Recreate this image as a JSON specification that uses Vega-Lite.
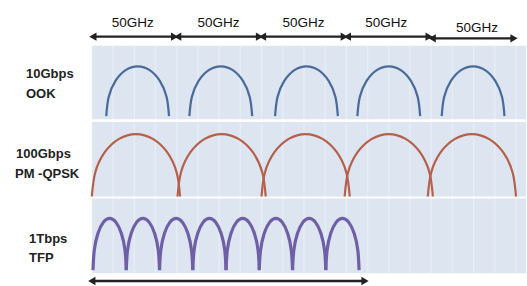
{
  "$schema": "https://vega.github.io/schema/vega-lite/v6.json",
  "width": 527,
  "height": 286,
  "autosize": {"type": "fit", "contains": "padding"},
  "padding": 0,
  "background": "white",
  "config": {"view": {"stroke": null}},
  "datasets": {
    "bands": [
      {"x": 0, "x2": 256, "y": 58.0, "y2": 83.9},
      {"x": 0, "x2": 256, "y": 30.8, "y2": 57.0},
      {"x": 0, "x2": 256, "y": 3.8, "y2": 30.1}
    ],
    "grid": [
      {"x": 0}, {"x": 12.5}, {"x": 25}, {"x": 37.5}, {"x": 50}, {"x": 62.5}, {"x": 75},
      {"x": 87.5}, {"x": 100}, {"x": 112.5}, {"x": 125}, {"x": 137.5}, {"x": 150},
      {"x": 162.5}, {"x": 175}, {"x": 187.5}, {"x": 200}, {"x": 212.5}, {"x": 225},
      {"x": 237.5}, {"x": 250}
    ],
    "arches": [
      {"s": "OOK", "id": "o1", "x": 8.5, "y": 59.1}, {"s": "OOK", "id": "o1", "x": 9.91, "y": 65.8}, {"s": "OOK", "id": "o1", "x": 13.92, "y": 71.5}, {"s": "OOK", "id": "o1", "x": 19.91, "y": 75.3}, {"s": "OOK", "id": "o1", "x": 27, "y": 76.6}, {"s": "OOK", "id": "o1", "x": 34.09, "y": 75.3}, {"s": "OOK", "id": "o1", "x": 40.08, "y": 71.5}, {"s": "OOK", "id": "o1", "x": 44.09, "y": 65.8}, {"s": "OOK", "id": "o1", "x": 45.5, "y": 59.1},
      {"s": "OOK", "id": "o2", "x": 57.5, "y": 59.1}, {"s": "OOK", "id": "o2", "x": 58.91, "y": 65.8}, {"s": "OOK", "id": "o2", "x": 62.92, "y": 71.5}, {"s": "OOK", "id": "o2", "x": 68.91, "y": 75.3}, {"s": "OOK", "id": "o2", "x": 76, "y": 76.6}, {"s": "OOK", "id": "o2", "x": 83.09, "y": 75.3}, {"s": "OOK", "id": "o2", "x": 89.08, "y": 71.5}, {"s": "OOK", "id": "o2", "x": 93.09, "y": 65.8}, {"s": "OOK", "id": "o2", "x": 94.5, "y": 59.1},
      {"s": "OOK", "id": "o3", "x": 108, "y": 59.1}, {"s": "OOK", "id": "o3", "x": 109.41, "y": 65.8}, {"s": "OOK", "id": "o3", "x": 113.42, "y": 71.5}, {"s": "OOK", "id": "o3", "x": 119.41, "y": 75.3}, {"s": "OOK", "id": "o3", "x": 126.5, "y": 76.6}, {"s": "OOK", "id": "o3", "x": 133.59, "y": 75.3}, {"s": "OOK", "id": "o3", "x": 139.58, "y": 71.5}, {"s": "OOK", "id": "o3", "x": 143.59, "y": 65.8}, {"s": "OOK", "id": "o3", "x": 145, "y": 59.1},
      {"s": "OOK", "id": "o4", "x": 156.5, "y": 59.1}, {"s": "OOK", "id": "o4", "x": 157.91, "y": 65.8}, {"s": "OOK", "id": "o4", "x": 161.92, "y": 71.5}, {"s": "OOK", "id": "o4", "x": 167.91, "y": 75.3}, {"s": "OOK", "id": "o4", "x": 175, "y": 76.6}, {"s": "OOK", "id": "o4", "x": 182.09, "y": 75.3}, {"s": "OOK", "id": "o4", "x": 188.08, "y": 71.5}, {"s": "OOK", "id": "o4", "x": 192.09, "y": 65.8}, {"s": "OOK", "id": "o4", "x": 193.5, "y": 59.1},
      {"s": "OOK", "id": "o5", "x": 206.2, "y": 59.1}, {"s": "OOK", "id": "o5", "x": 207.61, "y": 65.8}, {"s": "OOK", "id": "o5", "x": 211.62, "y": 71.5}, {"s": "OOK", "id": "o5", "x": 217.61, "y": 75.3}, {"s": "OOK", "id": "o5", "x": 224.7, "y": 76.6}, {"s": "OOK", "id": "o5", "x": 231.79, "y": 75.3}, {"s": "OOK", "id": "o5", "x": 237.78, "y": 71.5}, {"s": "OOK", "id": "o5", "x": 241.79, "y": 65.8}, {"s": "OOK", "id": "o5", "x": 243.2, "y": 59.1},
      {"s": "QPSK", "id": "q1", "x": 0, "y": 30.8}, {"s": "QPSK", "id": "q1", "x": 1.98, "y": 39.2}, {"s": "QPSK", "id": "q1", "x": 7.62, "y": 46.4}, {"s": "QPSK", "id": "q1", "x": 16.04, "y": 51.1}, {"s": "QPSK", "id": "q1", "x": 26, "y": 52.8}, {"s": "QPSK", "id": "q1", "x": 35.96, "y": 51.1}, {"s": "QPSK", "id": "q1", "x": 44.38, "y": 46.4}, {"s": "QPSK", "id": "q1", "x": 50.02, "y": 39.2}, {"s": "QPSK", "id": "q1", "x": 52, "y": 30.8},
      {"s": "QPSK", "id": "q2", "x": 50.5, "y": 30.8}, {"s": "QPSK", "id": "q2", "x": 52.48, "y": 39.2}, {"s": "QPSK", "id": "q2", "x": 58.12, "y": 46.4}, {"s": "QPSK", "id": "q2", "x": 66.54, "y": 51.1}, {"s": "QPSK", "id": "q2", "x": 76.5, "y": 52.8}, {"s": "QPSK", "id": "q2", "x": 86.46, "y": 51.1}, {"s": "QPSK", "id": "q2", "x": 94.88, "y": 46.4}, {"s": "QPSK", "id": "q2", "x": 100.52, "y": 39.2}, {"s": "QPSK", "id": "q2", "x": 102.5, "y": 30.8},
      {"s": "QPSK", "id": "q3", "x": 100, "y": 30.8}, {"s": "QPSK", "id": "q3", "x": 101.98, "y": 39.2}, {"s": "QPSK", "id": "q3", "x": 107.62, "y": 46.4}, {"s": "QPSK", "id": "q3", "x": 116.04, "y": 51.1}, {"s": "QPSK", "id": "q3", "x": 126, "y": 52.8}, {"s": "QPSK", "id": "q3", "x": 135.96, "y": 51.1}, {"s": "QPSK", "id": "q3", "x": 144.38, "y": 46.4}, {"s": "QPSK", "id": "q3", "x": 150.02, "y": 39.2}, {"s": "QPSK", "id": "q3", "x": 152, "y": 30.8},
      {"s": "QPSK", "id": "q4", "x": 149, "y": 30.8}, {"s": "QPSK", "id": "q4", "x": 150.98, "y": 39.2}, {"s": "QPSK", "id": "q4", "x": 156.62, "y": 46.4}, {"s": "QPSK", "id": "q4", "x": 165.04, "y": 51.1}, {"s": "QPSK", "id": "q4", "x": 175, "y": 52.8}, {"s": "QPSK", "id": "q4", "x": 184.96, "y": 51.1}, {"s": "QPSK", "id": "q4", "x": 193.38, "y": 46.4}, {"s": "QPSK", "id": "q4", "x": 199.02, "y": 39.2}, {"s": "QPSK", "id": "q4", "x": 201, "y": 30.8},
      {"s": "QPSK", "id": "q5", "x": 198, "y": 30.8}, {"s": "QPSK", "id": "q5", "x": 199.98, "y": 39.2}, {"s": "QPSK", "id": "q5", "x": 205.62, "y": 46.4}, {"s": "QPSK", "id": "q5", "x": 214.04, "y": 51.1}, {"s": "QPSK", "id": "q5", "x": 224, "y": 52.8}, {"s": "QPSK", "id": "q5", "x": 233.96, "y": 51.1}, {"s": "QPSK", "id": "q5", "x": 242.38, "y": 46.4}, {"s": "QPSK", "id": "q5", "x": 248.02, "y": 39.2}, {"s": "QPSK", "id": "q5", "x": 250, "y": 30.8},
      {"s": "TFP", "id": "t1", "x": 0.7, "y": 4.9}, {"s": "TFP", "id": "t1", "x": 1.44, "y": 11.9}, {"s": "TFP", "id": "t1", "x": 3.57, "y": 17.8}, {"s": "TFP", "id": "t1", "x": 6.75, "y": 21.7}, {"s": "TFP", "id": "t1", "x": 10.5, "y": 23.1}, {"s": "TFP", "id": "t1", "x": 14.25, "y": 21.7}, {"s": "TFP", "id": "t1", "x": 17.43, "y": 17.8}, {"s": "TFP", "id": "t1", "x": 19.56, "y": 11.9}, {"s": "TFP", "id": "t1", "x": 20.3, "y": 4.9},
      {"s": "TFP", "id": "t2", "x": 20.3, "y": 4.9}, {"s": "TFP", "id": "t2", "x": 21.04, "y": 11.9}, {"s": "TFP", "id": "t2", "x": 23.17, "y": 17.8}, {"s": "TFP", "id": "t2", "x": 26.35, "y": 21.7}, {"s": "TFP", "id": "t2", "x": 30.1, "y": 23.1}, {"s": "TFP", "id": "t2", "x": 33.85, "y": 21.7}, {"s": "TFP", "id": "t2", "x": 37.03, "y": 17.8}, {"s": "TFP", "id": "t2", "x": 39.16, "y": 11.9}, {"s": "TFP", "id": "t2", "x": 39.9, "y": 4.9},
      {"s": "TFP", "id": "t3", "x": 39.9, "y": 4.9}, {"s": "TFP", "id": "t3", "x": 40.64, "y": 11.9}, {"s": "TFP", "id": "t3", "x": 42.77, "y": 17.8}, {"s": "TFP", "id": "t3", "x": 45.95, "y": 21.7}, {"s": "TFP", "id": "t3", "x": 49.7, "y": 23.1}, {"s": "TFP", "id": "t3", "x": 53.45, "y": 21.7}, {"s": "TFP", "id": "t3", "x": 56.63, "y": 17.8}, {"s": "TFP", "id": "t3", "x": 58.76, "y": 11.9}, {"s": "TFP", "id": "t3", "x": 59.5, "y": 4.9},
      {"s": "TFP", "id": "t4", "x": 59.5, "y": 4.9}, {"s": "TFP", "id": "t4", "x": 60.24, "y": 11.9}, {"s": "TFP", "id": "t4", "x": 62.37, "y": 17.8}, {"s": "TFP", "id": "t4", "x": 65.55, "y": 21.7}, {"s": "TFP", "id": "t4", "x": 69.3, "y": 23.1}, {"s": "TFP", "id": "t4", "x": 73.05, "y": 21.7}, {"s": "TFP", "id": "t4", "x": 76.23, "y": 17.8}, {"s": "TFP", "id": "t4", "x": 78.36, "y": 11.9}, {"s": "TFP", "id": "t4", "x": 79.1, "y": 4.9},
      {"s": "TFP", "id": "t5", "x": 79.1, "y": 4.9}, {"s": "TFP", "id": "t5", "x": 79.84, "y": 11.9}, {"s": "TFP", "id": "t5", "x": 81.97, "y": 17.8}, {"s": "TFP", "id": "t5", "x": 85.15, "y": 21.7}, {"s": "TFP", "id": "t5", "x": 88.9, "y": 23.1}, {"s": "TFP", "id": "t5", "x": 92.65, "y": 21.7}, {"s": "TFP", "id": "t5", "x": 95.83, "y": 17.8}, {"s": "TFP", "id": "t5", "x": 97.96, "y": 11.9}, {"s": "TFP", "id": "t5", "x": 98.7, "y": 4.9},
      {"s": "TFP", "id": "t6", "x": 98.7, "y": 4.9}, {"s": "TFP", "id": "t6", "x": 99.44, "y": 11.9}, {"s": "TFP", "id": "t6", "x": 101.57, "y": 17.8}, {"s": "TFP", "id": "t6", "x": 104.75, "y": 21.7}, {"s": "TFP", "id": "t6", "x": 108.5, "y": 23.1}, {"s": "TFP", "id": "t6", "x": 112.25, "y": 21.7}, {"s": "TFP", "id": "t6", "x": 115.43, "y": 17.8}, {"s": "TFP", "id": "t6", "x": 117.56, "y": 11.9}, {"s": "TFP", "id": "t6", "x": 118.3, "y": 4.9},
      {"s": "TFP", "id": "t7", "x": 118.3, "y": 4.9}, {"s": "TFP", "id": "t7", "x": 119.04, "y": 11.9}, {"s": "TFP", "id": "t7", "x": 121.17, "y": 17.8}, {"s": "TFP", "id": "t7", "x": 124.35, "y": 21.7}, {"s": "TFP", "id": "t7", "x": 128.1, "y": 23.1}, {"s": "TFP", "id": "t7", "x": 131.85, "y": 21.7}, {"s": "TFP", "id": "t7", "x": 135.03, "y": 17.8}, {"s": "TFP", "id": "t7", "x": 137.16, "y": 11.9}, {"s": "TFP", "id": "t7", "x": 137.9, "y": 4.9},
      {"s": "TFP", "id": "t8", "x": 137.9, "y": 4.9}, {"s": "TFP", "id": "t8", "x": 138.64, "y": 11.9}, {"s": "TFP", "id": "t8", "x": 140.77, "y": 17.8}, {"s": "TFP", "id": "t8", "x": 143.95, "y": 21.7}, {"s": "TFP", "id": "t8", "x": 147.7, "y": 23.1}, {"s": "TFP", "id": "t8", "x": 151.45, "y": 21.7}, {"s": "TFP", "id": "t8", "x": 154.63, "y": 17.8}, {"s": "TFP", "id": "t8", "x": 156.76, "y": 11.9}, {"s": "TFP", "id": "t8", "x": 157.5, "y": 4.9}
    ],
    "arrows": [
      {"x": 0.6, "x2": 48.8, "y": 87.1},
      {"x": 50.6, "x2": 98.8, "y": 87.1},
      {"x": 100.6, "x2": 148.8, "y": 87.1},
      {"x": 150.6, "x2": 198.8, "y": 87.1},
      {"x": 200.6, "x2": 248.8, "y": 86.5},
      {"x": 0, "x2": 161, "y": 1.05}
    ],
    "spans": [
      {"t": "50GHz", "x": 24.1, "y": 92.0},
      {"t": "50GHz", "x": 74.7, "y": 92.0},
      {"t": "50GHz", "x": 124.7, "y": 92.0},
      {"t": "50GHz", "x": 173.5, "y": 92.0},
      {"t": "50GHz", "x": 227, "y": 90.2}
    ],
    "rowlabels": [
      {"t": "10Gbps", "x": -38.8, "y": 74.1},
      {"t": "OOK", "x": -38.8, "y": 66.8},
      {"t": "100Gbps", "x": -44.7, "y": 45.8},
      {"t": "PM -QPSK", "x": -45.3, "y": 38.8},
      {"t": "1Tbps", "x": -37.0, "y": 15.7},
      {"t": "TFP", "x": -37.0, "y": 9.1}
    ]
  },
  "layer": [
    {
      "data": {"name": "bands"},
      "mark": {"type": "rect", "color": "#dce5f0"},
      "encoding": {
        "x": {"field": "x", "type": "quantitative", "scale": {"domain": [-54.12, 255.88], "nice": false, "zero": false}, "axis": null},
        "x2": {"field": "x2"},
        "y": {"field": "y", "type": "quantitative", "scale": {"domain": [0, 100], "nice": false, "zero": false}, "axis": null},
        "y2": {"field": "y2"}
      }
    },
    {
      "data": {"name": "grid"},
      "mark": {"type": "rule", "color": "#ffffff", "opacity": 0.3, "strokeWidth": 1.5},
      "encoding": {
        "x": {"field": "x", "type": "quantitative"},
        "y": {"datum": 3.8, "type": "quantitative"},
        "y2": {"datum": 83.9}
      }
    },
    {
      "data": {"name": "arches"},
      "transform": [{"filter": "datum.s === 'OOK'"}],
      "mark": {"type": "line", "interpolate": "natural", "color": "#4a6a9c", "strokeWidth": 2.2},
      "encoding": {
        "x": {"field": "x", "type": "quantitative"},
        "y": {"field": "y", "type": "quantitative"},
        "detail": {"field": "id"}
      }
    },
    {
      "data": {"name": "arches"},
      "transform": [{"filter": "datum.s === 'QPSK'"}],
      "mark": {"type": "line", "interpolate": "natural", "color": "#b5604c", "strokeWidth": 2.2},
      "encoding": {
        "x": {"field": "x", "type": "quantitative"},
        "y": {"field": "y", "type": "quantitative"},
        "detail": {"field": "id"}
      }
    },
    {
      "data": {"name": "arches"},
      "transform": [{"filter": "datum.s === 'TFP'"}],
      "mark": {"type": "line", "interpolate": "natural", "color": "#6e5fa6", "strokeWidth": 3.2},
      "encoding": {
        "x": {"field": "x", "type": "quantitative"},
        "y": {"field": "y", "type": "quantitative"},
        "detail": {"field": "id"}
      }
    },
    {
      "data": {"name": "arrows"},
      "mark": {"type": "rule", "color": "#222222", "strokeWidth": 2.4},
      "encoding": {
        "x": {"field": "x", "type": "quantitative"},
        "x2": {"field": "x2"},
        "y": {"field": "y", "type": "quantitative"}
      }
    },
    {
      "data": {"name": "arrows"},
      "mark": {"type": "point", "shape": "triangle-left", "filled": true, "color": "#222222", "size": 70, "opacity": 1},
      "encoding": {
        "x": {"field": "x", "type": "quantitative"},
        "y": {"field": "y", "type": "quantitative"}
      }
    },
    {
      "data": {"name": "arrows"},
      "mark": {"type": "point", "shape": "triangle-right", "filled": true, "color": "#222222", "size": 70, "opacity": 1},
      "encoding": {
        "x": {"field": "x2", "type": "quantitative"},
        "y": {"field": "y", "type": "quantitative"}
      }
    },
    {
      "data": {"name": "spans"},
      "mark": {"type": "text", "font": "Liberation Sans", "fontSize": 13.5, "color": "#111111", "align": "center", "baseline": "middle"},
      "encoding": {
        "x": {"field": "x", "type": "quantitative"},
        "y": {"field": "y", "type": "quantitative"},
        "text": {"field": "t"}
      }
    },
    {
      "data": {"name": "rowlabels"},
      "mark": {"type": "text", "font": "Liberation Sans", "fontSize": 13, "fontWeight": "bold", "color": "#222222", "align": "left", "baseline": "middle"},
      "encoding": {
        "x": {"field": "x", "type": "quantitative"},
        "y": {"field": "y", "type": "quantitative"},
        "text": {"field": "t"}
      }
    }
  ]
}
